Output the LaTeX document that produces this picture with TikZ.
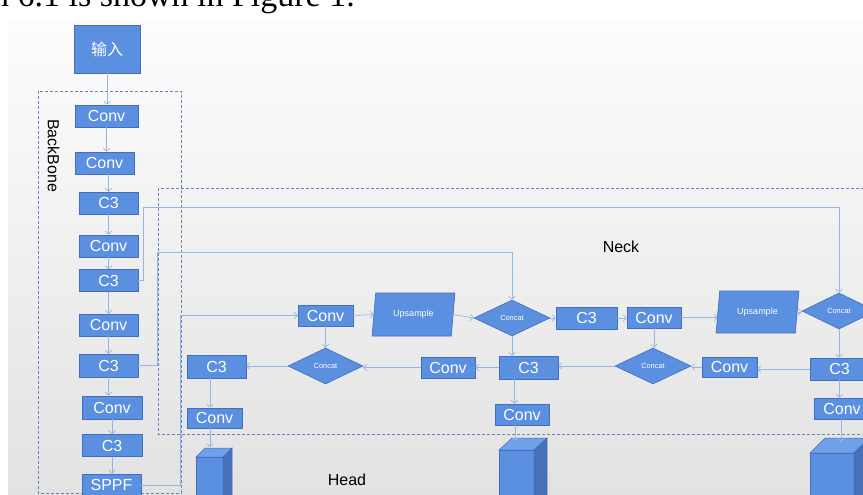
\documentclass[tikz,border=0pt]{standalone}
\usepackage{fontspec}
\setmainfont{Liberation Sans}
\newfontfamily\cjkfont{Noto Sans CJK SC}
\newfontfamily\seriffont{Liberation Serif}
\usetikzlibrary{shapes.geometric,arrows.meta,calc}
\definecolor{bfill}{RGB}{91,143,224}
\definecolor{bdr}{RGB}{66,110,190}
\definecolor{arrc}{RGB}{150,180,230}
\definecolor{dashc}{RGB}{100,135,185}
\definecolor{ctop}{RGB}{112,160,234}
\definecolor{cside}{RGB}{70,112,186}
\definecolor{bgtop}{RGB}{253,253,253}
\definecolor{bgbot}{RGB}{226,226,226}
\begin{document}
\begin{tikzpicture}[x=1pt,y=-1pt,
  box/.style={draw=bdr, fill=bfill, text=white, inner sep=0pt, line width=0.6pt, font=\fontsize{16}{16}\selectfont},
  dia/.style={diamond, aspect=2, draw=bdr, fill=bfill, text=white, inner sep=0pt, line width=0.6pt, font=\fontsize{7.4}{8}\selectfont},
  ups/.style={trapezium, trapezium left angle=77, trapezium right angle=103, trapezium stretches=true, draw=bdr, fill=bfill, text=white, inner sep=0pt, line width=0.6pt, font=\fontsize{9}{10}\selectfont},
  arr/.style={draw=arrc, line width=0.7pt, -{Straight Barb[length=3pt,width=6.5pt]}},
  dbox/.style={draw=dashc, line width=0.7pt, dash pattern=on 3pt off 2pt},
  lbl/.style={text=black, inner sep=0pt, font=\fontsize{16}{16}\selectfont},
  cubef/.style={fill=bfill, draw=bdr, line width=0.5pt},
  cubet/.style={fill=ctop, draw=bdr, line width=0.5pt},
  cubes/.style={fill=cside, draw=bdr, line width=0.5pt}
]
\useasboundingbox (0,0) rectangle (863,495);
\clip (0,0) rectangle (863,495);
\fill[white] (0,0) rectangle (863,495);
\shade[top color=bgtop, bottom color=bgbot] (8,20) rectangle (863,495);

% caption text (cut at the top, as in the source screenshot)
\node[anchor=base east, inner sep=0pt, text=black, font=\seriffont\fontsize{34}{34}\selectfont] (cap) at (355,6.5) {on 6.1 is shown in Figure 1.};

% dashed groups
\draw[dbox] (38,91) rectangle (181,493);
\draw[dbox] (158,188) rectangle (880,434);

% labels
\node[lbl, rotate=-90] (bbl) at (53.5,155.5) {BackBone};
\node[lbl] (neckl) at (621,247) {Neck};
\node[lbl] (headl) at (347,480) {Head};

% backbone
\node[box, minimum width=66pt, minimum height=48pt] (inp) at (107,49) {\cjkfont 输入};
\node[box, minimum width=63pt, minimum height=22pt] (bconv1) at (106.5,116) {Conv};
\node[box, minimum width=59pt, minimum height=22pt] (bconv2) at (104.5,163) {Conv};
\node[box, minimum width=59pt, minimum height=22pt] (bc3a) at (108.5,203) {C3};
\node[box, minimum width=59pt, minimum height=22pt] (bconv3) at (108.5,246) {Conv};
\node[box, minimum width=59pt, minimum height=22pt] (bc3b) at (108.5,280.5) {C3};
\node[box, minimum width=59pt, minimum height=22pt] (bconv4) at (108.5,325) {Conv};
\node[box, minimum width=59pt, minimum height=23pt] (bc3c) at (108.5,365.5) {C3};
\node[box, minimum width=60pt, minimum height=23pt] (bconv5) at (112,407.5) {Conv};
\node[box, minimum width=60pt, minimum height=22pt] (bc3d) at (112,445.5) {C3};
\node[box, minimum width=59pt, minimum height=22pt] (sppf) at (111.5,485) {SPPF};

% neck row 1
\node[box, minimum width=55pt, minimum height=21pt] (nconv1) at (325.5,315.5) {Conv};
\node[ups, minimum width=83pt, minimum height=43pt] (ups1) at (413.5,314.5) {Upsample};
\node[dia, minimum width=76pt, minimum height=36pt] (concat2) at (512,318) {Concat};
\node[box, minimum width=61pt, minimum height=22pt] (nc3a) at (586.5,318) {C3};
\node[box, minimum width=54pt, minimum height=21pt] (nconv2) at (654,317.5) {Conv};
\node[ups, minimum width=83pt, minimum height=42pt] (ups2) at (757.5,312) {Upsample};
\node[dia, minimum width=74pt, minimum height=36pt] (concat3) at (839,311) {Concat};

% neck row 2
\node[box, minimum width=59pt, minimum height=23pt] (nc3b) at (216.5,366.5) {C3};
\node[dia, minimum width=75pt, minimum height=36pt] (concat1) at (325.5,366) {Concat};
\node[box, minimum width=54pt, minimum height=21pt] (nconv3) at (448,367.5) {Conv};
\node[box, minimum width=59pt, minimum height=23pt] (nc3c) at (528.5,367.5) {C3};
\node[dia, minimum width=76pt, minimum height=36pt] (concat4) at (653,366) {Concat};
\node[box, minimum width=55pt, minimum height=20pt] (nconv4) at (729.5,367) {Conv};
\node[box, minimum width=59pt, minimum height=22pt] (nc3d) at (839.5,369) {C3};

% neck row 3
\node[box, minimum width=55pt, minimum height=20pt] (nconv5) at (214.5,418) {Conv};
\node[box, minimum width=54pt, minimum height=21pt] (nconv6) at (522,414.5) {Conv};
\node[box, minimum width=56pt, minimum height=21pt] (nconv7) at (842,408.5) {Conv};

% head cubes
\newcommand\headcube[6]{%
  \fill[cubef] (#1,#2) rectangle ++(#3,60);
  \fill[cubet] (#1,#2) -- ++(#4,#5) -- ++(#3,0) -- ++(-#4,-#5) -- cycle;
  \fill[cubes] (#1,#2) ++(#3,0) -- ++(#4,#5) -- ++(0,80) -- ++(-#4,0) -- cycle;
  \coordinate (#6) at (#1,#2);}
\headcube{196}{457}{27}{9}{-9}{cubeA}
\headcube{499}{450}{35}{13}{-12}{cubeB}
\headcube{810}{453}{44}{15}{-15}{cubeC}
\coordinate (cubeAtop) at ($(cubeA)+(14,-10)$);
\coordinate (cubeBtop) at ($(cubeB)+(16,-9)$);
\coordinate (cubeCtop) at ($(cubeC)+(31,-11)$);

% backbone arrows
\draw[arr] (inp.south) -- (inp.south |- bconv1.north);
\draw[arr] (bconv1.south) -- (bconv1.south |- bconv2.north);
\draw[arr] (bconv2.south -| bc3a.north) -- (bc3a.north);
\draw[arr] (bc3a.south) -- (bc3a.south |- bconv3.north);
\draw[arr] (bconv3.south) -- (bconv3.south |- bc3b.north);
\draw[arr] (bc3b.south) -- (bc3b.south |- bconv4.north);
\draw[arr] (bconv4.south) -- (bconv4.south |- bc3c.north);
\draw[arr] (bc3c.south) -- (bc3c.south |- bconv5.north);
\draw[arr] (bconv5.south) -- (bconv5.south |- bc3d.north);
\draw[arr] (bc3d.south) -- (bc3d.south |- sppf.north);

% backbone to neck
\draw[arr] (bc3b.east) -| (143,207) -| (concat3.north);
\draw[arr] (bc3c.east) -| (157,252) -| (concat2.north);
\draw[arr] (sppf.east) -| (180,315.5) -- (nconv1.west);

% neck row 1
\draw[arr] (nconv1.east) -- (ups1.west);
\draw[arr] (ups1.east) -- (concat2.west);
\draw[arr] (concat2.east) -- (nc3a.west);
\draw[arr] (nc3a.east) -- (nc3a.east -| nconv2.west);
\draw[arr] (nconv2.east) -- (nconv2.east -| ups2.west);
\draw[arr] (ups2.east) -- (ups2.east -| concat3.west);

% verticals
\draw[arr] (nconv1.south) -- (concat1.north);
\draw[arr] (concat2.south) -- (concat2.south |- nc3c.north);
\draw[arr] (nconv2.south) -- (nconv2.south |- concat4.north);
\draw[arr] (concat3.south) -- (concat3.south |- nc3d.north);

% neck row 2
\draw[arr] (concat1.west) -- (concat1.west -| nc3b.east);
\draw[arr] (nconv3.west) -- (nconv3.west -| concat1.east);
\draw[arr] (nc3c.west) -- (nc3c.west -| nconv3.east);
\draw[arr] (concat4.west) -- (concat4.west -| nc3c.east);
\draw[arr] (nconv4.west) -- (nconv4.west -| concat4.east);
\draw[arr] (nc3d.west) -- (nc3d.west -| nconv4.east);

% to row 3
\coordinate (s5) at ([xshift=-6.5pt]nc3b.south);
\draw[arr] (s5) -- (s5 |- nconv5.north);
\coordinate (s6) at ([xshift=-14pt]nc3c.south);
\draw[arr] (s6) -- (s6 |- nconv6.north);
\draw[arr] (nc3d.south) -- (nc3d.south |- nconv7.north);

% to head
\draw[arr] (nconv5.south -| cubeAtop) -- (cubeAtop);
\draw[arr] (nconv6.south -| cubeBtop) -- (cubeBtop);
\draw[arr] (nconv7.south -| cubeCtop) -- (cubeCtop);
\end{tikzpicture}
\end{document}
